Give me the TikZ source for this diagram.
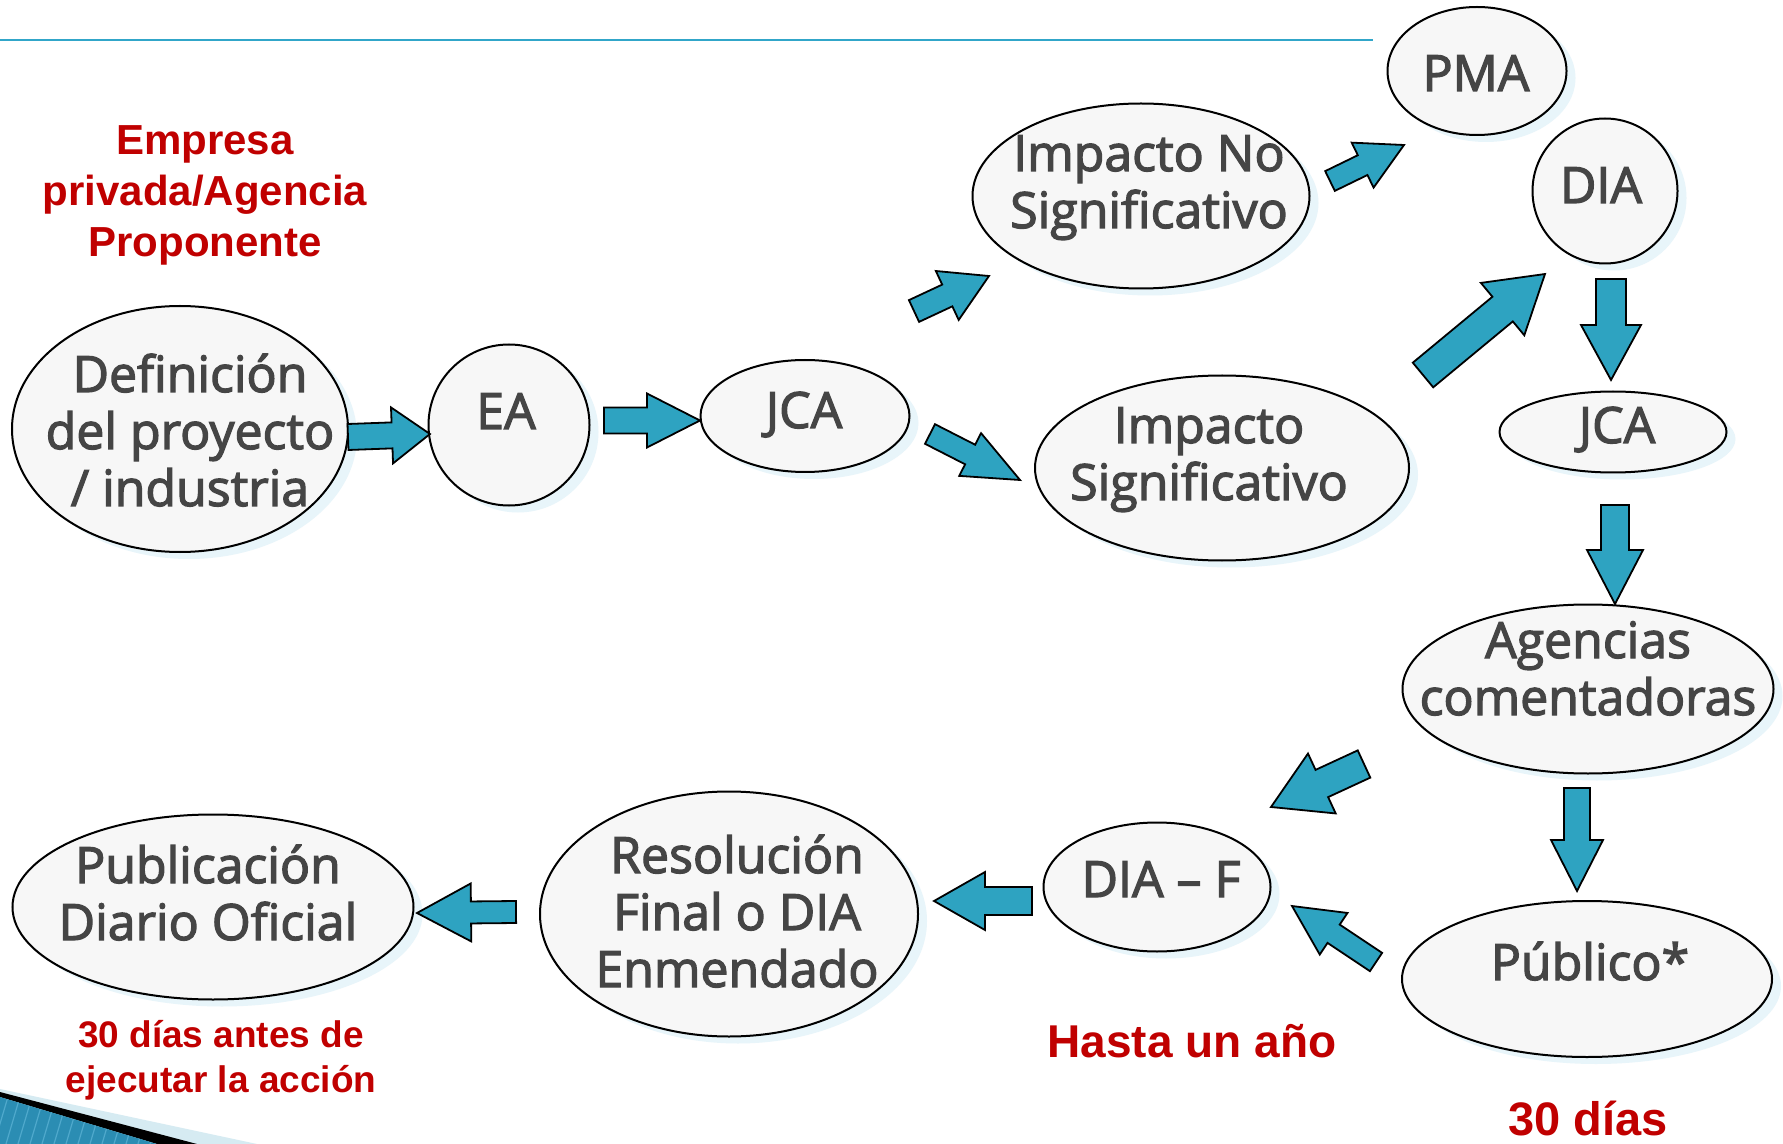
\documentclass[tikz,border=0pt]{standalone}
\usepackage{fontspec}
\usetikzlibrary{shapes.geometric,calc,shadows}
\newfontfamily\nodefont{Open Sans}[FakeBold=2.5]
\newfontfamily\redfont{Liberation Sans}
\definecolor{nodefill}{HTML}{F7F7F7}
\definecolor{nodetext}{HTML}{454545}
\definecolor{arrowfill}{HTML}{2EA3C1}
\definecolor{shadowc}{HTML}{E8F5FA}
\definecolor{redc}{HTML}{C00000}
\definecolor{topline}{HTML}{31A6C9}
\definecolor{decoblue}{HTML}{2B8DB3}
\definecolor{decostripe}{HTML}{4FA9CC}
\definecolor{decolight}{HTML}{D6EBF2}
\newcommand\barrow[5]{%
  \path let \p1=(#1), \p2=(#2) in \pgfextra{%
    \pgfmathsetmacro\ArAng{atan2(\y2-\y1,\x2-\x1)}%
    \pgfmathsetmacro\ArLen{veclen(\x2-\x1,\y2-\y1)}%
    \xdef\ArA{\ArAng}\xdef\ArL{\ArLen}};
  \begin{scope}[shift={(#1)}, rotate=\ArA, x=1pt, y=1pt]
    \pgfmathsetmacro\As{#3*0.5}\pgfmathsetmacro\Ah{#4*0.5}\pgfmathsetmacro\Ab{\ArL-#5*0.5}
    \draw[blockarrow] (0,-\As) -- (\Ab,-\As) -- (\Ab,-\Ah) -- (\ArL,0) -- (\Ab,\Ah) -- (\Ab,\As) -- (0,\As) -- cycle;
  \end{scope}}
\tikzset{
  ell/.style={ellipse, draw=black, line width=1pt, fill=nodefill, inner sep=0pt,
    drop shadow={shadow xshift=4.5pt, shadow yshift=-3.5pt, fill=shadowc, opacity=1}},
  ntext/.style={inner sep=0pt, anchor=base, text=nodetext, font=\nodefont\fontsize{25}{28.5}\selectfont},
  redtext/.style={inner sep=0pt, anchor=base, text=redc},
  blockarrow/.style={draw=black, line width=0.9pt, fill=arrowfill, line join=miter}
}
\begin{document}
\begin{tikzpicture}[x=0.5pt,y=-0.5pt]
\useasboundingbox (0,0) rectangle (1783,1144);
\fill[white] (0,0) rectangle (1783,1144);
% top rule
\draw[topline, line width=1pt] (0,40) -- (1373,40);
% bottom-left decoration
\fill[decolight] (0,1089) -- (257,1144) -- (0,1144) -- cycle;
\fill[black] (0,1092) -- (197,1144) -- (157,1144) -- (0,1097) -- cycle;
\fill[decoblue] (0,1097) -- (157,1144) -- (0,1144) -- cycle;
\begin{scope}
  \clip (0,1097) -- (157,1144) -- (0,1144) -- cycle;
  \foreach \i in {-30,-18,...,170} \draw[decostripe, line width=0.6pt] (\i,1144) -- (\i+16,1090);
\end{scope}

% ellipses
\node[ell, minimum width=168pt, minimum height=123pt] (def) at (180,429) {};
\node[ell, minimum width=80.5pt, minimum height=80.5pt] (ea) at (509,425) {};
\node[ell, minimum width=104.5pt, minimum height=56pt] (jca1) at (805,416) {};
\node[ell, minimum width=168.5pt, minimum height=92.5pt] (impno) at (1141,196) {};
\node[ell, minimum width=187pt, minimum height=92.5pt] (impsig) at (1222,468) {};
\node[ell, minimum width=89.5pt, minimum height=64pt] (pma) at (1477,71) {};
\node[ell, minimum width=72.5pt, minimum height=72.5pt] (dia) at (1605,191) {};
\node[ell, minimum width=113.5pt, minimum height=40.5pt] (jca2) at (1613,432) {};
\node[ell, minimum width=185.5pt, minimum height=84.5pt] (ag) at (1588,689) {};
\node[ell, minimum width=185pt, minimum height=78pt] (pub) at (1587,979) {};
\node[ell, minimum width=113.5pt, minimum height=64.5pt] (diaf) at (1157,887) {};
\node[ell, minimum width=189pt, minimum height=122.5pt] (res) at (729,914) {};
\node[ell, minimum width=200.5pt, minimum height=92.5pt] (dof) at (213,907) {};

% node texts
\node[ntext] (def-t) at (190,392) {\begin{tabular}[t]{@{}c@{}}Definición\\del proyecto\\/ industria\end{tabular}};
\node[ntext] (ea-t) at (506,429) {EA};
\node[ntext] (jca1-t) at (804,428) {JCA};
\node[ntext] (impno-t) at (1149,171) {\begin{tabular}[t]{@{}c@{}}Impacto No\\Significativo\end{tabular}};
\node[ntext] (impsig-t) at (1209,443) {\begin{tabular}[t]{@{}c@{}}Impacto\\Significativo\end{tabular}};
\node[ntext] (pma-t) at (1476,91) {PMA};
\node[ntext] (dia-t) at (1601,203) {DIA};
\node[ntext] (jca2-t) at (1617,443) {JCA};
\node[ntext] (ag-t) at (1588,658) {\begin{tabular}[t]{@{}c@{}}Agencias\\comentadoras\end{tabular}};
\node[ntext] (pub-t) at (1590,980) {Público*};
\node[ntext] (diaf-t) at (1161,897) {DIA – F};
\node[ntext] (res-t) at (737,873) {\begin{tabular}[t]{@{}c@{}}Resolución\\Final o DIA\\Enmendado\end{tabular}};
\node[ntext] (dof-t) at (208,883) {\begin{tabular}[t]{@{}c@{}}Publicación\\Diario Oficial\end{tabular}};

% red labels
\node[redtext, font=\redfont\bfseries\fontsize{21}{25.5}\selectfont] (empresa) at (205,155)
  {\begin{tabular}[t]{@{}c@{}}Empresa\\privada/Agencia\\Proponente\end{tabular}};
\node[redtext, font=\redfont\bfseries\fontsize{18.5}{22.5}\selectfont] (treinta1) at (221,1047)
  {\begin{tabular}[t]{@{}c@{}}30 días antes de\\ejecutar la acción\end{tabular}};
\node[redtext, font=\redfont\bfseries\fontsize{23}{27}\selectfont] (hasta) at (1192,1057) {Hasta un año};
\node[redtext, font=\redfont\bfseries\fontsize{23.5}{27}\selectfont] (treinta2) at (1588,1135) {30 días};

% arrow end points
\coordinate (a1s) at (348,437);  \coordinate (a1e) at (430,434);
\coordinate (a2s) at (604,420.5);\coordinate (a2e) at (700,420.5);
\coordinate (a3s) at (914,311);  \coordinate (a3e) at (989,276);
\coordinate (a4s) at (930,434);  \coordinate (a4e) at (1020,480);
\coordinate (a5s) at (1330,181); \coordinate (a5e) at (1404,145);
\coordinate (a6s) at (1423,375); \coordinate (a6e) at (1545,274);
\coordinate (a7s) at (1611,279); \coordinate (a7e) at (1611,380);
\coordinate (a8s) at (1615,505); \coordinate (a8e) at (1615,604);
\coordinate (a9s) at (1577,788); \coordinate (a9e) at (1577,891);
\coordinate (a10s) at (1364,764);\coordinate (a10e) at (1271,807);
\coordinate (a11s) at (1376,962);\coordinate (a11e) at (1292,906);
\coordinate (a12s) at (1032,901);\coordinate (a12e) at (934,901);
\coordinate (a13s) at (516,912); \coordinate (a13e) at (417,913);

\barrow{a1s}{a1e}{13}{28}{38}
\barrow{a2s}{a2e}{13}{27}{53}
\barrow{a3s}{a3e}{12}{27}{46}
\barrow{a4s}{a4e}{11}{24}{56}
\barrow{a5s}{a5e}{11}{25}{46}
\barrow{a6s}{a6e}{16}{34}{55}
\barrow{a7s}{a7e}{15}{30}{55}
\barrow{a8s}{a8e}{14}{28}{54}
\barrow{a9s}{a9e}{13}{26}{51}
\barrow{a10s}{a10e}{15}{33}{56}
\barrow{a11s}{a11e}{11}{25}{50}
\barrow{a12s}{a12e}{14}{29}{51}
\barrow{a13s}{a13e}{11}{29}{54}
\end{tikzpicture}
\end{document}
